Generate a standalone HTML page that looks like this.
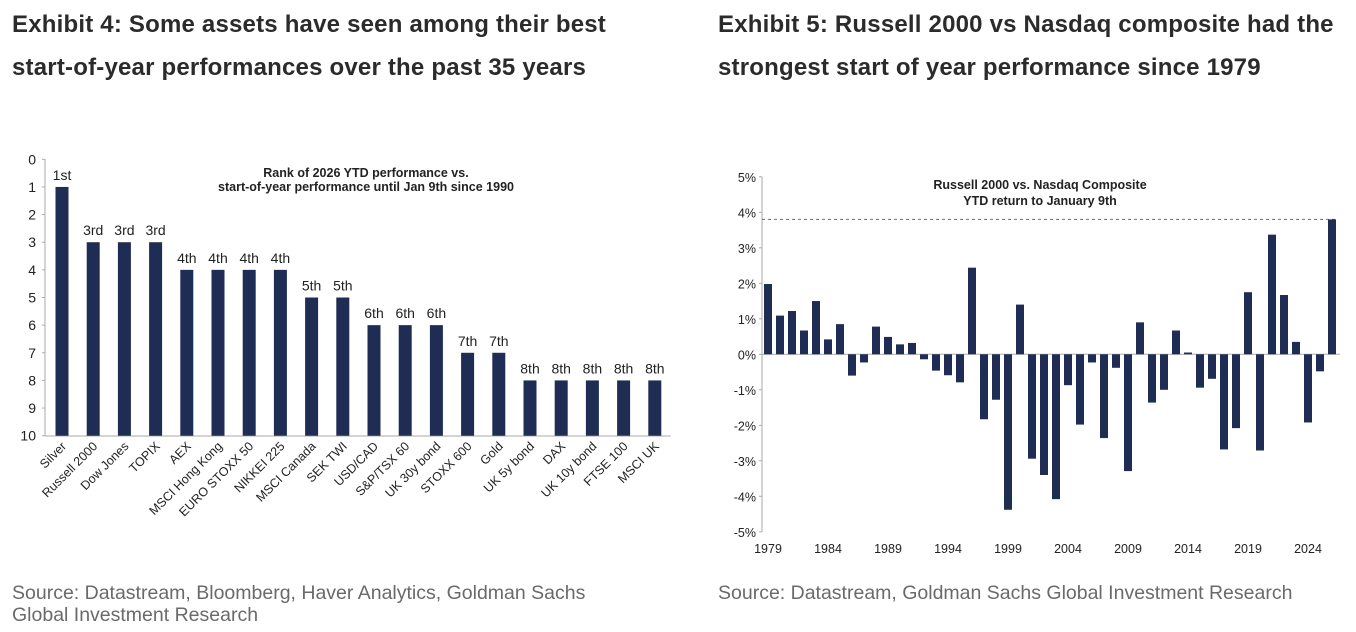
<!DOCTYPE html>
<html><head><meta charset="utf-8"><style>
html,body{margin:0;padding:0;background:#fff;width:1356px;height:632px;overflow:hidden}
svg{display:block}
.t{font-family:"Liberation Sans",sans-serif;font-weight:bold;font-size:24px;letter-spacing:0.2px;fill:#2b2b2b}
.s{font-family:"Liberation Sans",sans-serif;font-size:19.5px;fill:#6a6a6a}
.a{font-family:"Liberation Sans",sans-serif;font-size:12.5px;fill:#222}
.y{font-family:"Liberation Sans",sans-serif;font-size:14px;fill:#222}
.ct{font-family:"Liberation Sans",sans-serif;font-size:12.5px;font-weight:bold;fill:#222}
</style></head><body>
<svg id="svg" width="1356" height="632" xmlns="http://www.w3.org/2000/svg">
<text class="t" x="12" y="32">Exhibit 4: Some assets have seen among their best</text>
<text class="t" x="12" y="75">start-of-year performances over the past 35 years</text>
<text class="t" x="718" y="32">Exhibit 5: Russell 2000 vs Nasdaq composite had the</text>
<text class="t" x="718" y="75">strongest start of year performance since 1979</text>
<text class="ct" x="366" y="177" text-anchor="middle">Rank of 2026 YTD  performance vs.</text>
<text class="ct" x="366" y="191" text-anchor="middle">start-of-year performance until  Jan 9th since 1990</text>
<text class="ct" x="1040" y="189" text-anchor="middle">Russell 2000 vs. Nasdaq Composite</text>
<text class="ct" x="1040" y="205" text-anchor="middle">YTD return to January 9th</text>
<text class="s" x="12" y="599">Source: Datastream, Bloomberg, Haver Analytics, Goldman Sachs</text>
<text class="s" x="12" y="621">Global Investment Research</text>
<text class="s" x="718" y="599">Source: Datastream, Goldman Sachs Global Investment Research</text>
<g id="c4"></g><g id="c5"></g>
</svg>
<script>
const assets=["Silver","Russell 2000","Dow Jones","TOPIX","AEX","MSCI Hong Kong","EURO STOXX 50","NIKKEI 225","MSCI Canada","SEK TWI","USD/CAD","S&P/TSX 60","UK 30y bond","STOXX 600","Gold","UK 5y bond","DAX","UK 10y bond","FTSE 100","MSCI UK"];
const ranks=[1,3,3,3,4,4,4,4,5,5,6,6,6,7,7,8,8,8,8,8];
const rankLabels=["1st","3rd","3rd","3rd","4th","4th","4th","4th","5th","5th","6th","6th","6th","7th","7th","8th","8th","8th","8th","8th"];
const rankTicks=[0,1,2,3,4,5,6,7,8,9,10];
const years=[];for(let y=1979;y<=2026;y++)years.push(y);
const rel=[1.98,1.09,1.22,0.67,1.50,0.42,0.85,-0.60,-0.23,0.78,0.49,0.28,0.32,-0.14,-0.46,-0.59,-0.79,2.44,-1.83,-1.28,-4.38,1.40,-2.94,-3.40,-4.08,-0.87,-1.98,-0.23,-2.36,-0.38,-3.29,0.90,-1.36,-1.00,0.67,0.05,-0.94,-0.69,-2.68,-2.08,1.75,-2.71,3.37,1.67,0.35,-1.92,-0.48,3.80];
const pctTicks=[5,4,3,2,1,0,-1,-2,-3,-4,-5];
const yearTicks=[1979,1984,1989,1994,1999,2004,2009,2014,2019,2024];
const refLine=[3.8];
const NS="http://www.w3.org/2000/svg";
function mk(p,t,a){const e=document.createElementNS(NS,t);for(const k in a)e.setAttribute(k,a[k]);p.appendChild(e);return e;}
const navy="#1f2d55",grid="#aaa";
// chart 4
const c4=document.getElementById('c4');
const y4=v=>159.3+v*27.64, x4=i=>62+i*31.2;
mk(c4,'line',{x1:45,y1:159,x2:45,y2:436,stroke:grid,'stroke-width':1});
mk(c4,'line',{x1:45,y1:436,x2:x4(19)+16,y2:436,stroke:grid,'stroke-width':1});
rankTicks.forEach(v=>{const t=mk(c4,'text',{x:36,y:y4(v)+5,'text-anchor':'end',class:'y'});t.textContent=v;


mk(c4,'line',{x1:42,x2:45,y1:y4(v),y2:y4(v),stroke:grid});});
ranks.forEach((r,i)=>{const b=mk(c4,'rect',{x:x4(i)-6.5,y:y4(r),width:13,height:y4(10)-y4(r),fill:navy});


const l=mk(c4,'text',{x:x4(i),y:y4(r)-7,'text-anchor':'middle',class:'y'});l.textContent=rankLabels[i];


const c=mk(c4,'text',{x:0,y:0,'text-anchor':'end',class:'a',transform:`translate(${x4(i)+5},${447}) rotate(-45)`});c.textContent=assets[i];

});
// chart 5
const c5=document.getElementById('c5');
const y5=v=>354.3-v*35.5, x5=i=>768+i*12;
mk(c5,'line',{x1:762,y1:y5(5),x2:762,y2:y5(-5),stroke:grid});
mk(c5,'line',{x1:762,y1:y5(0),x2:1340,y2:y5(0),stroke:grid});
pctTicks.forEach(v=>{const t=mk(c5,'text',{x:756,y:y5(v)+5,'text-anchor':'end',class:'a'});t.textContent=v+'%';


mk(c5,'line',{x1:759,x2:762,y1:y5(v),y2:y5(v),stroke:grid});});
refLine.forEach(v=>{const d=mk(c5,'line',{x1:762,x2:1336,y1:y5(v),y2:y5(v),stroke:'#5a6f95','stroke-dasharray':'3,3'});

});
rel.forEach((v,i)=>{const b=mk(c5,'rect',{x:x5(i)-4,y:Math.min(y5(v),y5(0)),width:8,height:Math.abs(y5(v)-y5(0)),fill:navy});

});
yearTicks.forEach(yv=>{const i=years.indexOf(yv);const t=mk(c5,'text',{x:x5(i),y:553,'text-anchor':'middle',class:'a'});t.textContent=yv;

});
</script>
</body></html>
